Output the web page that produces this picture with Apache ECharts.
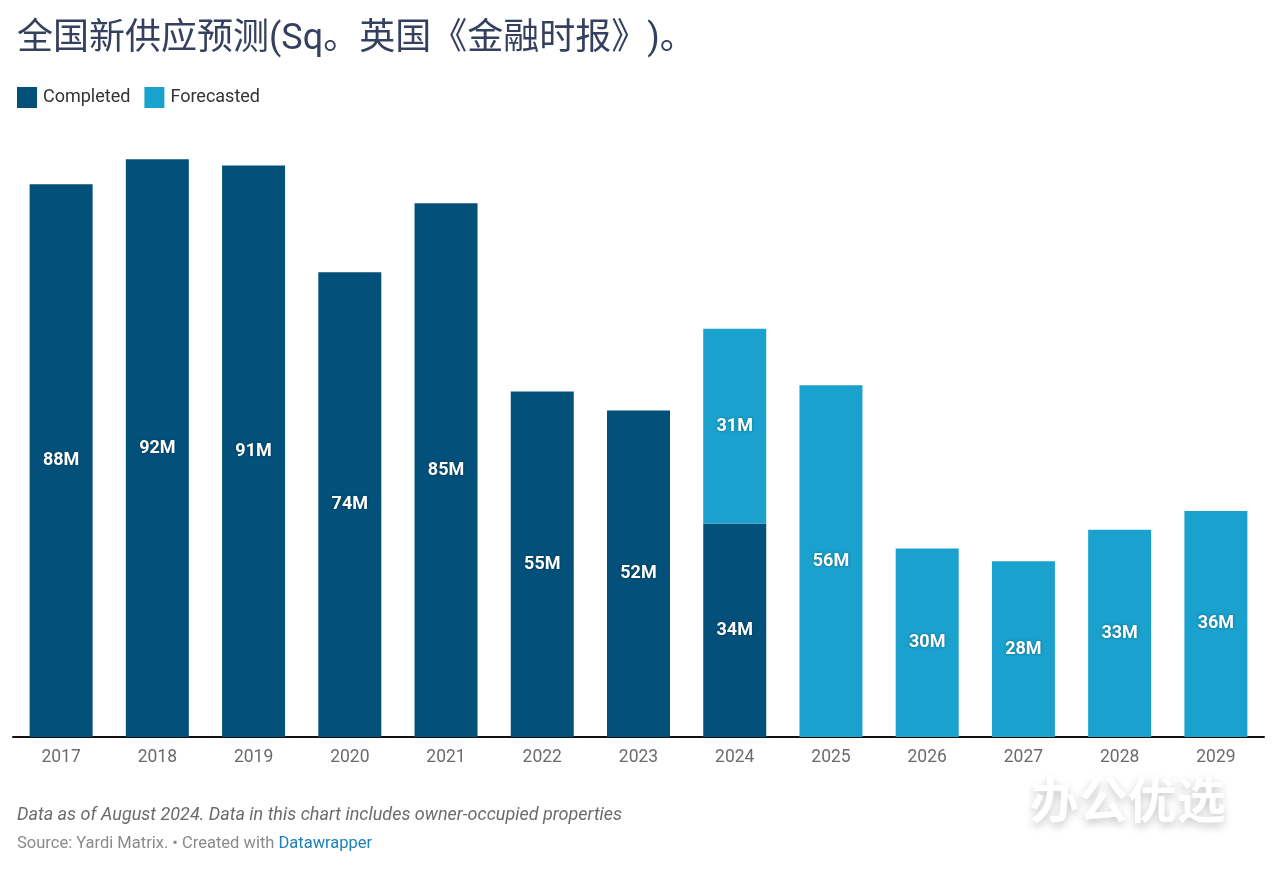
<!DOCTYPE html>
<html>
<head>
<meta charset="utf-8">
<script src="https://cdn.jsdelivr.net/npm/echarts@6/dist/echarts.min.js"></script>
<style>
html,body{margin:0;padding:0;background:#fff;}
#c{width:1278px;height:885px;}
</style>
</head>
<body>
<div id="c"></div>
<script>
const categories = ['2017','2018','2019','2020','2021','2022','2023','2024','2025','2026','2027','2028','2029'];
const completed = [88, 92, 91, 74, 85, 55, 52, 34, null, null, null, null, null];
const forecasted = [null, null, null, null, null, null, null, 31, 56, 30, 28, 33, 36];
const seriesNames = ['Completed', 'Forecasted'];
const titleText = '全国新供应预测(Sq。英国《金融时报》)。';
const noteText = 'Data as of August 2024. Data in this chart includes owner-occupied properties';

const chart = echarts.init(document.getElementById('c'));
const labelStyle = {
  show: true,
  position: 'inside',
  formatter: '{c}M',
  color: '#ffffff',
  fontFamily: 'Roboto',
  fontWeight: 'bold',
  fontSize: 18,
  textShadowColor: 'rgba(0,0,0,0.35)',
  textShadowBlur: 3
};
chart.setOption({
  animation: false,
  backgroundColor: '#ffffff',
  title: [
    {
      text: titleText,
      left: 17, top: 22, padding: 0,
      textStyle: {fontFamily: "Roboto, 'Noto Sans CJK SC'", fontWeight: 'normal', fontSize: 36, color: '#34405e'}
    },
    {
      text: noteText,
      left: 17, top: 806, padding: 0,
      textStyle: {fontFamily: 'Roboto', fontStyle: 'italic', fontWeight: 'normal', fontSize: 18, color: '#6b6b6b'}
    },
    {
      text: '{a|Source: Yardi Matrix. • Created with }{b|Datawrapper}',
      left: 17, top: 835, padding: 0,
      textStyle: {
        fontWeight: 'normal',
        rich: {
          a: {fontFamily: 'Roboto', fontWeight: 'normal', fontSize: 16.5, color: '#8a8a8a'},
          b: {fontFamily: 'Roboto', fontWeight: 'normal', fontSize: 16.5, color: '#1d81b8'}
        }
      }
    }
  ],
  legend: {
    left: 17, top: 87, padding: 0,
    itemWidth: 20, itemHeight: 21, itemGap: 14,
    icon: 'rect',
    textStyle: {fontFamily: 'Roboto', fontSize: 18, color: '#333333', padding: [0,0,0,1]},
    data: seriesNames
  },
  grid: {left: 13, right: 14, top: 109, bottom: 148, containLabel: false},
  xAxis: {
    type: 'category',
    data: categories,
    axisLine: {show: true, lineStyle: {color: '#111111', width: 2}},
    axisTick: {show: false},
    axisLabel: {fontFamily: 'Roboto', fontSize: 17.5, color: '#6b6b6b', margin: 12}
  },
  yAxis: {
    type: 'value', min: 0, max: 100,
    show: false,
    splitLine: {show: false}
  },
  series: [
    {
      name: seriesNames[0], type: 'bar', stack: 'total', data: completed,
      barWidth: 63,
      itemStyle: {color: '#03517a'},
      label: labelStyle
    },
    {
      name: seriesNames[1], type: 'bar', stack: 'total', data: forecasted,
      barWidth: 63,
      itemStyle: {color: '#1aa1cd'},
      label: labelStyle
    }
  ],
  graphic: [
    {
      type: 'text', left: 1030, top: 775, silent: true, z: 100,
      style: {
        text: '办公优选', fill: '#ffffff',
        font: "bold 49px 'Noto Sans CJK SC'",
        textShadowColor: 'rgba(0,0,0,0.22)', textShadowBlur: 9, textShadowOffsetY: 4
      }
    }
  ]
});
</script>
</body>
</html>
